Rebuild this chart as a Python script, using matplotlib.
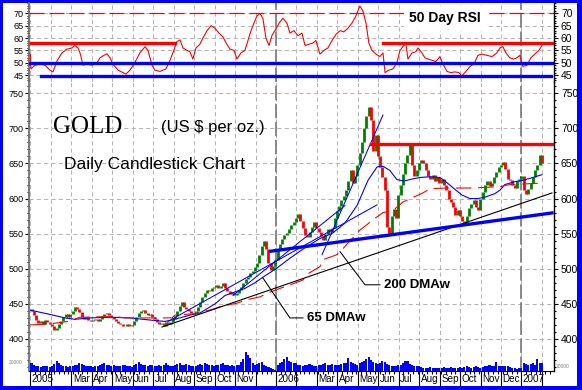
import numpy as np
import matplotlib
matplotlib.use("Agg")
import matplotlib.pyplot as plt
from matplotlib.patches import Rectangle
from matplotlib.transforms import blended_transform_factory
from matplotlib.ticker import MultipleLocator

plt.rcParams['font.family'] = ['Liberation Sans', 'DejaVu Sans']

# gold closes, 9 samples per month, Jan 2005 .. Jan 2007 (x in months from Jan 1 2005)
closes = [
    440, 434, 427, 423, 426, 422, 427, 424, 421,   # Jan 05
    418, 413, 416, 421, 426, 431, 435, 432, 435,   # Feb
    440, 446, 443, 438, 432, 428, 431, 427, 425,   # Mar
    427, 429, 425, 428, 433, 436, 437, 434, 431,   # Apr
    428, 426, 423, 421, 419, 418, 422, 418, 420,   # May
    425, 432, 437, 440, 441, 437, 434, 436, 432,   # Jun
    428, 424, 421, 423, 419, 424, 421, 424, 429,   # Jul
    433, 440, 447, 452, 446, 443, 440, 437, 436,   # Aug
    440, 446, 452, 460, 466, 470, 468, 472, 474,   # Sep
    477, 472, 476, 480, 472, 468, 464, 467, 463,   # Oct
    466, 470, 474, 480, 485, 488, 494, 497, 502,   # Nov
    508, 520, 532, 540, 528, 508, 498, 504, 513,   # Dec
    528, 535, 542, 548, 551, 556, 562, 566, 572,   # Jan 06
    578, 568, 558, 548, 545, 553, 560, 567, 558,   # Feb
    552, 546, 541, 550, 556, 552, 558, 572, 582,   # Mar
    590, 598, 604, 612, 625, 640, 622, 632, 648,   # Apr
    665, 680, 700, 718, 730, 712, 668, 690, 660,   # May
    645, 630, 612, 560, 548, 575, 585, 572, 605,   # Jun
    620, 635, 650, 662, 676, 648, 632, 640, 650,   # Jul
    655, 650, 640, 632, 628, 634, 625, 630, 622,   # Aug
    628, 620, 612, 600, 595, 588, 576, 583, 575,   # Sep
    568, 565, 575, 586, 592, 598, 588, 583, 600,   # Oct
    610, 620, 625, 618, 622, 630, 638, 645, 648,   # Nov
    652, 642, 628, 626, 620, 615, 625, 628, 632,   # Dec
    612, 606, 614, 622, 630, 640, 648, 662, 650,   # Jan 07
]
volume = [
    60, 45, 35, 40, 30, 35, 40, 35, 30,
    40, 55, 80, 60, 45, 40, 35, 30, 35,
    40, 45, 50, 60, 55, 45, 40, 35, 40,
    30, 35, 40, 45, 55, 60, 50, 45, 40,
    45, 40, 35, 40, 45, 50, 40, 35, 30,
    45, 55, 70, 55, 50, 45, 40, 50, 45,
    40, 35, 45, 40, 50, 60, 45, 40, 35,
    45, 55, 60, 50, 45, 55, 50, 40, 35,
    40, 45, 55, 50, 60, 55, 50, 45, 40,
    45, 50, 55, 60, 50, 45, 40, 45, 40,
    45, 50, 70, 90, 150, 120, 100, 60, 50,
    55, 60, 70, 45, 35, 30, 20, 15, 10,
    50, 60, 70, 90, 110, 80, 70, 60, 65,
    50, 45, 40, 45, 50, 55, 45, 40, 35,
    45, 50, 55, 60, 50, 45, 55, 50, 45,
    50, 55, 60, 65, 100, 70, 60, 55, 50,
    60, 70, 80, 90, 110, 85, 70, 60, 55,
    60, 80, 70, 55, 45, 40, 35, 40, 45,
    50, 60, 75, 80, 55, 45, 40, 35, 40,
    30, 25, 20, 25, 30, 25, 20, 25, 20,
    25, 30, 25, 20, 30, 25, 20, 25, 30,
    25, 30, 35, 30, 25, 30, 35, 30, 25,
    30, 35, 40, 45, 40, 35, 70, 40, 35,
    35, 40, 35, 30, 25, 20, 15, 25, 20,
    60, 55, 50, 55, 60, 50, 95, 65, 60,
]

rsi_m = [0.0, 0.02, 0.22, 0.46, 0.71, 0.95, 1.10, 1.30, 1.54, 1.78, 2.03, 2.17, 2.32, 2.42,
         2.57, 2.76, 3.01, 3.25, 3.40, 3.59, 3.74, 3.89, 4.03, 4.28, 4.52, 4.67, 4.86, 5.06,
         5.35, 5.60, 5.74, 5.94, 6.08, 6.33, 6.62, 6.82, 6.96, 7.16, 7.31, 7.45, 7.65, 7.79,
         7.94, 8.09, 8.28, 8.43, 8.63, 8.82, 9.02, 9.21, 9.41, 9.56, 9.75, 9.95, 10.09, 10.29,
         10.48, 10.63, 10.78, 10.92, 11.07, 11.22, 11.36, 11.51, 11.66, 11.80, 11.95, 12.15,
         12.34, 12.54, 12.68, 12.88, 13.07, 13.27, 13.42, 13.61, 13.81, 13.95, 14.15, 14.34,
         14.54, 14.74, 14.93, 15.13, 15.32, 15.52, 15.71, 15.91, 16.10, 16.25, 16.40, 16.54,
         16.69, 16.89, 17.08, 17.23, 17.33, 17.52, 17.72, 17.91, 18.06, 18.25, 18.35, 18.45,
         18.65, 18.84, 18.94, 19.13, 19.28, 19.43, 19.62, 19.82, 20.01, 20.16, 20.36, 20.55,
         20.75, 20.94, 21.09, 21.29, 21.48, 21.68, 21.87, 22.07, 22.31, 22.56, 22.80, 22.95,
         23.09, 23.24, 23.43, 23.63, 23.78, 23.92, 24.07, 24.27, 24.46, 24.65, 24.85, 25.00]
rsi_v = [53.5, 47.5, 49, 49.5, 49, 47, 46.3, 50.8, 54, 55.5, 56, 57, 56, 54,
         49, 49.5, 49, 50, 52, 53, 53.6, 52, 49.4, 47, 46, 45.4, 47, 49.5,
         54, 56.5, 55, 49, 47, 46.5, 47.5, 51, 54, 58.5, 59.3, 56, 55, 54.5,
         51.5, 56, 57.5, 60, 63, 65, 64, 62, 60.5, 58, 55.5, 55, 51.5, 54,
         55, 59, 63, 66, 69, 70, 68, 60, 57, 61, 63, 66,
         68, 66, 62, 63, 61, 62, 57, 57.5, 58, 59, 53.5, 55,
         56, 59, 61.5, 63, 62.5, 64, 66, 69, 73, 71, 66, 58,
         55, 53.5, 52.5, 54, 46, 47, 47.5, 50, 55, 57, 57.6, 51.5,
         54, 54.5, 56, 54, 52, 51.5, 51, 50.5, 52.5, 49.5, 46.5, 46,
         46.3, 46, 44.7, 46.5, 48.5, 49.5, 53, 53.5, 53, 52.5, 54, 56,
         56.5, 54, 52, 51.5, 52, 53, 48.5, 49, 52, 53.5, 55, 57]

ma65_m = [0.0, 0.95, 1.69, 2.17, 2.91, 3.89, 4.86, 5.84, 6.57, 6.92, 7.80, 8.28, 9.02, 9.51,
          10.09, 10.48, 10.97, 11.36, 12.0, 12.68, 13.42, 14.15, 14.78, 15.37, 15.96, 16.50,
          16.94, 17.23, 17.57, 17.91, 18.25, 18.69, 19.03, 19.52, 20.01, 20.26, 20.75, 21.09,
          21.48, 21.87, 22.21, 22.70, 22.95, 23.19, 23.68, 24.07, 24.56, 25.0]
ma65_v = [441, 435, 430, 428, 430, 431, 430, 427, 425, 427, 434, 437, 450, 462,
          468, 472, 480, 488, 500, 515, 530, 543, 551, 565, 590, 626,
          645, 646, 640, 627, 625, 628, 630, 631, 630, 625, 613, 605,
          600, 600, 602, 607, 612, 620, 624, 626, 630, 634]

ma200_m = [0.0, 0.71, 1.35, 1.83, 2.42, 4.13, 4.62, 5.74, 6.92, 7.06, 8.04, 8.19, 8.87, 9.26,
           10.09, 10.58, 11.22, 11.56, 12.19, 12.68, 13.32, 13.51, 14.15, 14.30, 14.98, 15.13,
           16.10, 16.94, 17.23, 17.72, 18.20, 19.18, 19.52, 20.36, 21.63, 22.95, 23.44, 24.27, 25.05]
ma200_v = [420, 421, 423, 425, 431, 432, 430, 430, 430, 434, 436, 437, 442, 446,
           451, 456, 460, 465, 472, 477, 484, 492, 503, 513, 520, 524,
           555, 574, 580, 583, 595, 608, 614, 615, 615, 617, 620, 621, 622]

month_labels = ['2005', '', 'Mar', 'Apr', 'May', 'Jun', 'Jul', 'Aug', 'Sep', 'Oct', 'Nov', '',
                '2006', '', 'Mar', 'Apr', 'May', 'Jun', 'Jul', 'Aug', 'Sep', 'Oct', 'Nov', 'Dec',
                '2007', '']

W, H = 582, 390
BLUE = '#0000ff'
GRID = '#b4b4b4'
XLIM = (-0.073, 25.59)

fig = plt.figure(figsize=(W / 100, H / 100), dpi=100)
fig.patch.set_facecolor(BLUE)
fig.patches.append(Rectangle((3 / W, 4 / H), 574 / W, 383 / H, transform=fig.transFigure,
                             facecolor='white', edgecolor='none', zorder=-10))


def box(x0, y0, x1, y1):
    return [x0 / W, 1 - y1 / H, (x1 - x0) / W, (y1 - y0) / H]


ax_rsi = fig.add_axes(box(29, 3, 554, 82))
ax = fig.add_axes(box(29, 82, 554, 371))
ax_vol = fig.add_axes(box(29, 345, 554, 371))

months = np.arange(0, 26)

# ---- common styling
for a, lo, hi, major, minor in [(ax_rsi, 42.2, 74.2, np.arange(45, 71, 5), 1),
                                (ax, 354.4, 766, np.arange(400, 751, 50), 10)]:
    a.set_xlim(XLIM)
    a.set_ylim(lo, hi)
    a.set_xticks(months)
    a.set_yticks(major)
    a.yaxis.set_minor_locator(MultipleLocator(minor))
    a.grid(True, which='major', color=GRID, lw=0.75, linestyle=(0, (4, 3)))
    a.set_axisbelow(True)
    for s in ['top', 'right']:
        a.spines[s].set_visible(False)
    a.spines['left'].set_color('#707070')
    a.spines['left'].set_linewidth(1.3)
    a.tick_params(axis='y', which='major', length=3, width=0.8, pad=1, labelsize=6.5)
    a.tick_params(axis='y', which='minor', length=1.5, width=0.8)
    a.patch.set_alpha(0)
    # right-hand scale
    r = a.twinx()
    r.set_ylim(lo, hi)
    r.set_yticks(major)
    r.yaxis.set_minor_locator(MultipleLocator(minor))
    r.tick_params(axis='y', which='major', length=3, width=0.8, pad=2, labelsize=7.5)
    r.tick_params(axis='y', which='minor', length=1.5, width=0.8)
    for s in ['top', 'left', 'bottom']:
        r.spines[s].set_visible(False)
    r.spines['right'].set_color('black')
    r.spines['right'].set_linewidth(1)

ax_rsi.spines['bottom'].set_visible(False)
ax_rsi.tick_params(axis='x', which='both', bottom=False, labelbottom=False)

# year separators
for a in (ax_rsi, ax):
    for yr in (12, 24):
        a.axvline(yr, color='#808080', lw=1.3, linestyle=(0, (8, 2)), zorder=1)

# ---- RSI panel
ax_rsi.axhline(70, color='red', lw=0.9, linestyle=(0, (12, 4)), zorder=2)
ax_rsi.plot(rsi_m, rsi_v, color='red', lw=0.8, zorder=3)
ax_rsi.plot([XLIM[0], XLIM[1]], [50, 50], color=BLUE, lw=2.4, zorder=4)
ax_rsi.plot([0.51, 25.44], [44.7, 44.7], color=BLUE, lw=2.4, zorder=4)
ax_rsi.plot([0.02, 7.06], [57.9, 57.9], color='red', lw=2.4, zorder=4)
ax_rsi.plot([17.23, 25.54], [57.9, 57.9], color='red', lw=2.4, zorder=4)
ax_rsi.text(20.26, 68.0, '50 Day RSI', fontsize=10, fontweight='bold', ha='center', va='center',
            zorder=5, bbox=dict(facecolor='white', edgecolor='none', pad=4))

# ---- price panel: candles
cl = np.array(closes, dtype=float)
op = np.concatenate([[cl[0] + 3], cl[:-1]])
xc = np.linspace(0.05, 25.0, len(cl))
colors = np.where(cl >= op, '#008000', '#ff0000')
ax.vlines(xc, op, cl, colors=colors, lw=2.0, zorder=3)

ax.plot(ma65_m, ma65_v, color=BLUE, lw=0.8, zorder=4)
ax.plot(ma200_m, ma200_v, color='red', lw=0.8, linestyle=(0, (14, 6)), zorder=4)

# fan lines, trend lines
for (x0, y0), (x1, y1) in [((6.72, 425), (16.94, 591)),
                           ((9.90, 462), (15.37, 590)),
                           ((14.25, 520), (17.23, 719))]:
    ax.plot([x0, x1], [y0, y1], color=BLUE, lw=0.75, zorder=4)
ax.plot([6.43, 25.49], [417, 608], color='black', lw=0.8, zorder=4)
ax.plot([11.75, 25.49], [525, 579.5], color=BLUE, lw=2.4, zorder=4)
ax.plot([16.64, 25.49], [678, 678], color='red', lw=2.4, zorder=4)

# annotations
ax.text(2.81, 702, 'GOLD', family=['Liberation Serif', 'DejaVu Serif'], fontsize=18,
        ha='center', va='center', zorder=5)
ax.text(8.92, 701, '(US $ per oz.)', fontsize=12, ha='center', va='center', zorder=5)
ax.text(6.06, 648, 'Daily Candlestick Chart', fontsize=12.5, ha='center', va='center', zorder=5)
ax.plot([11.36, 12.68, 13.32], [487, 430, 430], color='black', lw=0.75, zorder=5)
ax.text(13.5, 430, '65 DMAw', fontsize=9.5, fontweight='bold', ha='left', va='center', zorder=5)
ax.plot([15.13, 16.35, 17.08], [524.4, 477.2, 477.2], color='black', lw=0.75, zorder=5)
ax.text(17.3, 477.2, '200 DMAw', fontsize=9.5, fontweight='bold', ha='left', va='center', zorder=5)

# x axis: month boxes
ax.spines['bottom'].set_color('black')
ax.set_xticklabels([])
ax.xaxis.set_minor_locator(MultipleLocator(12 / 52))
ax.tick_params(axis='x', which='major', length=11, width=0.8, direction='out')
ax.tick_params(axis='x', which='minor', length=2.2, width=0.8, direction='out')
trans = blended_transform_factory(ax.transData, fig.transFigure)
for m, lab in zip(months, month_labels):
    if lab:
        ax.text(m + 0.07, 1 - 379.5 / H, lab, transform=trans, fontsize=7.1,
                ha='left', va='center')

# ---- volume
ax_vol.bar(xc, volume, width=0.1, color=BLUE, linewidth=0)
ax_vol.set_xlim(XLIM)
ax_vol.set_ylim(0, 200)
ax_vol.axis('off')
fig.text(9 / W, 1 - 363 / H, '20000', fontsize=3.5, color='#808080', va='center')
fig.text(556 / W, 1 - 366 / H, '20000', fontsize=3.5, color='#808080', va='center')

fig.savefig('out.png', dpi=100, facecolor=fig.get_facecolor())
